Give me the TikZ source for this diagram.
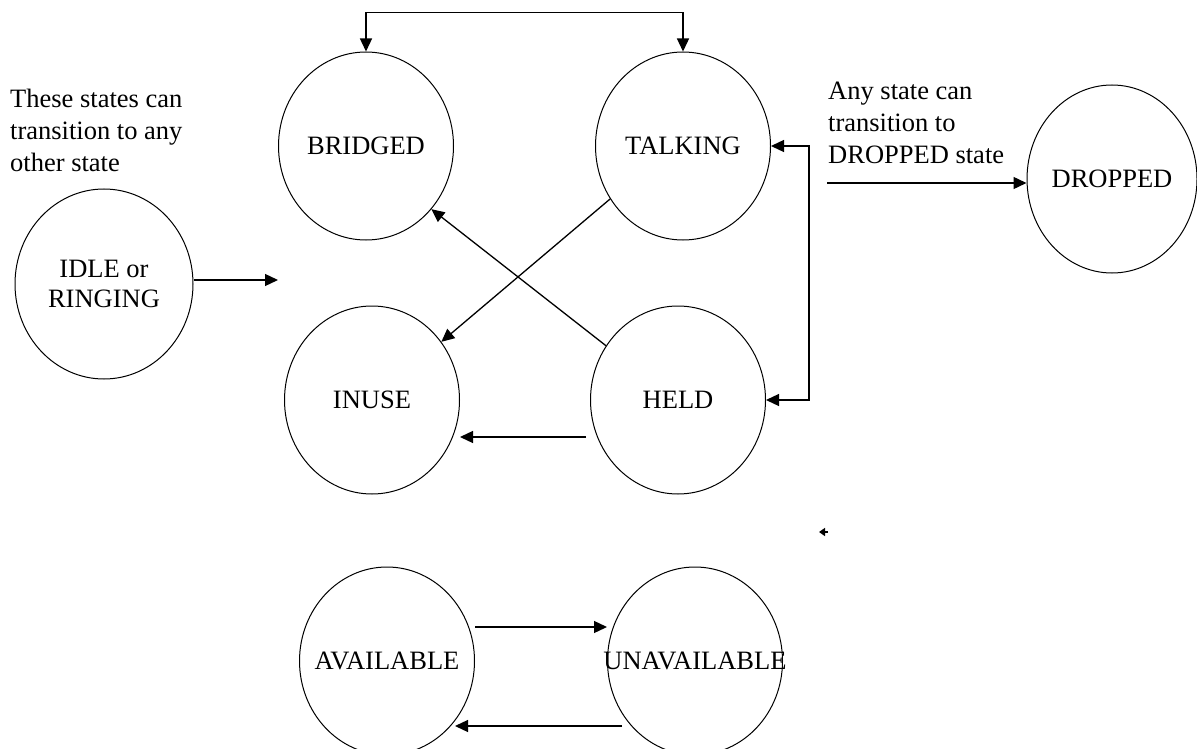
\documentclass[tikz,border=0pt]{standalone}
\usepackage{fontspec}
\setmainfont{Liberation Serif}
\usetikzlibrary{shapes.geometric,arrows.meta}
\begin{document}
\begin{tikzpicture}[x=1pt,y=-1pt,
  >={Triangle[length=13pt,width=12pt]},
  state/.style={draw,line width=1pt,ellipse,minimum width=175pt,minimum height=188pt,inner sep=0pt},
  lab/.style={font=\fontsize{26.5}{30}\selectfont,align=center,inner sep=0pt},
  note/.style={font=\fontsize{26.5}{32}\selectfont,align=left,inner sep=0pt,anchor=north west},
  conn/.style={line width=1.3pt,->}]
\useasboundingbox (0,0) rectangle (1197,749);

\node[state,label={[lab]center:BRIDGED}] (bridged) at (366,146) {};
\node[state,label={[lab]center:TALKING}] (talking) at (683,146) {};
\node[state,label={[lab]center:INUSE}] (inuse) at (372,400) {};
\node[state,label={[lab]center:HELD}] (held) at (678,400) {};
\node[state,minimum width=178pt,minimum height=190pt,label={[lab]center:IDLE or\\RINGING}] (idle) at (104,284) {};
\node[state,minimum width=170pt,label={[lab]center:DROPPED}] (dropped) at (1112,179) {};
\node[state,label={[lab]center:AVAILABLE}] (avail) at (387,661) {};
\node[state,label={[lab]center:UNAVAILABLE}] (unavail) at (695,661) {};

\node[note] (leftnote) at (10,89) {These states can\\transition to any\\other state};
\node[note] (rightnote) at (828,82) {Any state can\\transition to\\DROPPED state};

% top bracket
\draw[line width=1.3pt,<->] (bridged.north) -- ++(0,-39) -| (talking.north);
% right bracket
\draw[line width=1.3pt,<->] (talking.east) -- ++(38,0) |- (held.east);

% idle arrow
\coordinate (idletip) at (278,280);
\draw[conn] (idle.east |- idletip) -- (idletip);

% dropped arrow
\coordinate (dropsrc) at (827,183);
\draw[conn] (dropsrc) -- (dropsrc -| dropped.west);

% diagonals
\draw[conn] (talking.216) -- (inuse.40);
\draw[conn] (held.143) -- (bridged.316);

% held -> inuse
\coordinate (hs) at ([shift={(-4,37)}]held.west);
\draw[conn] (hs) -- (hs -| inuse.east);

% available <-> unavailable
\coordinate (as) at ([shift={(0,-34)}]avail.east);
\draw[conn] (as) -- (as -| unavail.west);
\coordinate (us) at ([shift={(15,65)}]unavail.west);
\coordinate (ae) at ([shift={(68,65)}]avail.center);
\draw[conn] (us) -- (us -| ae);

% stray small arrowhead
\coordinate (m1) at (828,532);
\coordinate (m2) at (819,532);
\draw[line width=1.5pt,-{Triangle[length=6pt,width=8pt]}] (m1) -- (m2);
\end{tikzpicture}
\end{document}
